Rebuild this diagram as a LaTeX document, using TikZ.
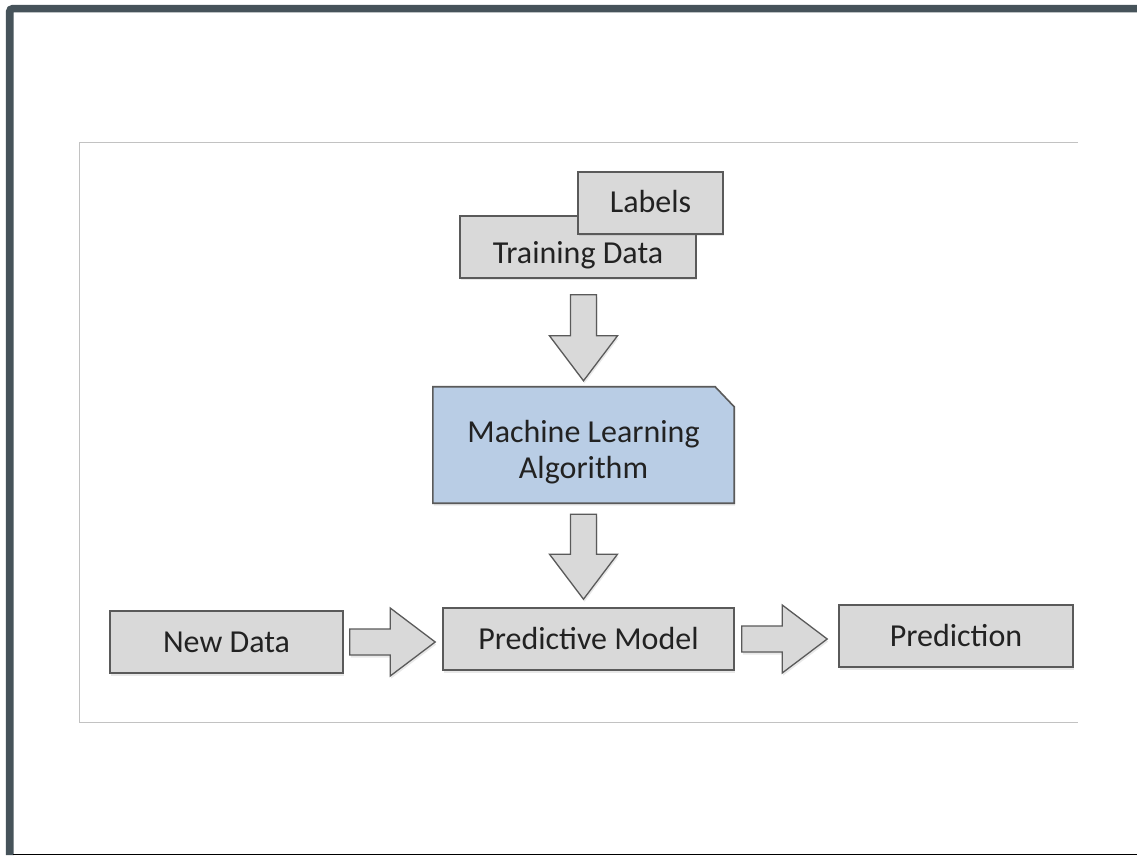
\documentclass[tikz,border=0pt]{standalone}
\usepackage{fontspec}
\setmainfont{Carlito}
\usetikzlibrary{calc,shadows,backgrounds}

\definecolor{framecol}{HTML}{46535A}
\definecolor{baseline}{HTML}{9AA4AA}
\definecolor{panelline}{HTML}{C2C2C2}
\definecolor{boxfill}{HTML}{D9D9D9}
\definecolor{boxline}{HTML}{5A5A5A}
\definecolor{mlfill}{HTML}{B9CDE5}
\definecolor{txt}{HTML}{222222}

\tikzset{
  softshadow/.style={drop shadow={shadow xshift=1pt, shadow yshift=-2.5pt, opacity=0.18}},
  labeltext/.style={font=\fontsize{32}{36}\selectfont, text=txt, inner sep=0pt},
  box/.style={labeltext, draw=boxline, line width=1.6pt, fill=boxfill,
    text height=20pt, text depth=0pt, minimum height=62pt, softshadow},
  mltext/.style={labeltext, align=center, minimum width=301pt, minimum height=116pt},
  mlshape/.style={draw=boxline, line width=1.6pt, fill=mlfill, line join=miter, softshadow},
  blockarrow/.style={draw=boxline, line width=1.3pt, fill=boxfill, line join=miter, softshadow},
}

% wide hollow arrow from #1 to #2: shaft half-width 13pt, head half-width 34pt, head 45pt long
\newcommand\fatarrow[2]{%
  \coordinate (fa-base) at ($(#2)!45pt!(#1)$);
  \draw[blockarrow]
    ($(#1)!13pt!90:(#2)$) -- ($(fa-base)!13pt!90:(#2)$) -- ($(fa-base)!34pt!90:(#2)$)
    -- (#2)
    -- ($(fa-base)!34pt!-90:(#2)$) -- ($(fa-base)!13pt!-90:(#2)$) -- ($(#1)!13pt!-90:(#2)$)
    -- cycle;}

\begin{document}
\begin{tikzpicture}[x=1pt,y=1pt]
  \useasboundingbox (0,0) rectangle (1137,855);

  % page, slide frame and content panel
  \begin{pgfonlayer}{background}
    \fill[white] (0,0) rectangle (1137,855);
    \draw[framecol, line width=7.6pt, rounded corners=3pt]
      (9.7,0) -- (9.7,846.3) -- (1140,846.3);
    \draw[baseline, line width=1.2pt] (13,0.8) -- (1137,0.8);
    \draw[panelline, line width=1.5pt]
      (1078,712.5) -- (79.5,712.5) -- (79.5,132.5) -- (1078,132.5);
  \end{pgfonlayer}

  % boxes
  \node[box, minimum width=236pt, text height=34pt] (td) at (578,608) {Training Data};
  \node[box, minimum width=145pt] (lab) at (650.5,652) {Labels};
  \node[mltext] (ml) at (583.5,410) {\rule{0pt}{37pt}Machine Learning\\Algorithm};
  \node[box, minimum width=233pt] (nd) at (226.5,213) {New Data};
  \node[box, minimum width=291pt] (pm) at (588.5,216) {Predictive Model};
  \node[box, minimum width=234pt] (pred) at (956,219) {Prediction};

  % algorithm box outline with clipped top-right corner
  \begin{pgfonlayer}{background}
    \draw[mlshape] (ml.south west) -- (ml.north west) -- ([xshift=-19pt]ml.north east)
      -- ([yshift=-20pt]ml.north east) -- (ml.south east) -- cycle;
  \end{pgfonlayer}

  % connector end points
  \coordinate (a1s) at ($(td.south -| ml.north)+(0,-16)$);
  \coordinate (a1e) at ($(ml.north)+(0,6)$);
  \coordinate (a2s) at ($(ml.south)+(0,-11)$);
  \coordinate (a2e) at ($(ml.south |- pm.north)+(0,8)$);
  \coordinate (a3s) at ($(nd.east)+(6,0)$);
  \coordinate (a3e) at ($(pm.west |- nd.east)+(-7,0)$);
  \coordinate (a4s) at ($(pm.east)+(7,0)$);
  \coordinate (a4e) at ($(pred.west |- pm.east)+(-11,0)$);

  % connectors
  \fatarrow{a1s}{a1e}
  \fatarrow{a2s}{a2e}
  \fatarrow{a3s}{a3e}
  \fatarrow{a4s}{a4e}
\end{tikzpicture}
\end{document}
